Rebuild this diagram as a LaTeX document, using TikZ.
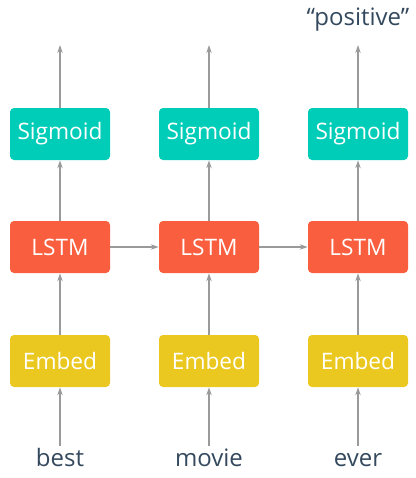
\documentclass[tikz,border=0pt]{standalone}
\usepackage{fontspec}
\setmainfont{Open Sans}
\usetikzlibrary{arrows.meta, positioning}
\definecolor{sigcol}{HTML}{00CDB8}
\definecolor{lstmcol}{HTML}{F95E3E}
\definecolor{embcol}{HTML}{EBC81F}
\definecolor{wordcol}{HTML}{34495E}
\definecolor{arrcol}{HTML}{9A9A9A}
\tikzset{
    cellbox/.style={rectangle, rounded corners=3pt, minimum width=75pt, minimum height=39pt, inner sep=0pt, text=white, font=\fontsize{17}{19}\selectfont},
    sigbox/.style={cellbox, fill=sigcol},
    lstmbox/.style={cellbox, fill=lstmcol},
    embbox/.style={cellbox, fill=embcol},
    wordnode/.style={inner sep=1.5pt, text height=13pt, text depth=4pt, text=wordcol, font=\fontsize{18}{20}\selectfont},
    flowarrow/.style={-{Stealth[length=6pt,width=4pt]}, line width=1pt, draw=arrcol}
}

\begin{document}
\begin{tikzpicture}[x=0.75pt, y=-0.75pt]
    \useasboundingbox (0,0) rectangle (416,478);
    % Columns of cells
    \foreach \n/\x/\w in {1/60/best, 2/209/movie, 3/358/ever} {
        \node[sigbox] (sig\n) at (\x,134) {Sigmoid};
        \node[lstmbox] (lstm\n) at (\x,247) {LSTM};
        \node[embbox] (emb\n) at (\x,361) {Embed};
        \node[wordnode] (word\n) at (\x,460) {\w};
        \coordinate (out\n) at (\x,45);
    }
    \node[wordnode] (result) at (358,20) {“positive”};

    % Vertical flow
    \foreach \n in {1,2,3} {
        \draw[flowarrow] (word\n.north) -- (emb\n.south);
        \draw[flowarrow] (emb\n.north) -- (lstm\n.south);
        \draw[flowarrow] (lstm\n.north) -- (sig\n.south);
        \draw[flowarrow] (sig\n.north) -- (out\n);
    }

    % Hidden state passed along
    \draw[flowarrow] (lstm1.east) -- (lstm2.west);
    \draw[flowarrow] (lstm2.east) -- (lstm3.west);
\end{tikzpicture}
\end{document}
